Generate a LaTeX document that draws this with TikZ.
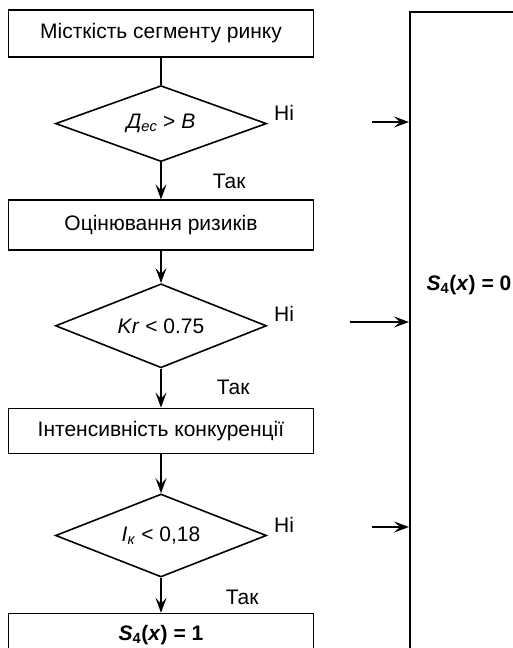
\documentclass[tikz,border=0pt]{standalone}
\usepackage{fontspec}
\setmainfont{Liberation Sans}
\usepackage{tikz}
\usetikzlibrary{shapes.geometric, arrows.meta, positioning}

\begin{document}
\begin{tikzpicture}[
    x=1pt, y=-1pt,
    line width=1.6pt,
    font=\fontsize{21pt}{24pt}\selectfont,
    block/.style={rectangle, draw, text centered, minimum width=305pt, minimum height=48pt, inner sep=0pt},
    decision/.style={diamond, draw, aspect=2.7, minimum width=211pt, minimum height=80pt, inner sep=0pt},
    resultbox/.style={rectangle, draw, minimum width=220pt, minimum height=700pt, anchor=north west},
    arrow/.style={-{Stealth[length=15pt, width=11pt, inset=6pt]}}
]
    \clip (0,0) rectangle (513,648);

    % Nodes
    \node [block, minimum height=47pt] (segment) at (161,33.5) {Місткість сегменту ринку};
    \node [decision, below=27pt of segment, minimum height=76pt] (dvs) {\textit{Д}\textsubscript{\textit{ес}} > \textit{В}};
    \node [block, below=37pt of dvs, minimum height=50pt] (risks) {Оцінювання ризиків};
    \node [decision, below=32pt of risks, minimum height=84pt] (kr) {\textit{Kr} < 0.75};
    \node [block, below=39pt of kr, minimum height=45pt] (compet) {Інтенсивність конкуренції};
    \node [decision, below=39pt of compet, minimum height=83pt] (ik) {\textit{I}\textsubscript{\textit{к}} < 0,18};
    \node [block, below=35pt of ik, minimum height=42pt] (one) {\textbf{\textit{S}\textsubscript{4}(\textit{x}) = 1}};

    % Right block
    \node [resultbox] (zero) at (409,11) {};
    \node (zerolbl) at (469,285) {\textbf{\textit{S}\textsubscript{4}(\textit{x}) = 0}};

    % Labels
    \node [anchor=south west, inner sep=0pt, xshift=6pt, yshift=2pt] (no1) at (dvs.east) {Ні};
    \node [anchor=south west, inner sep=0pt, xshift=6pt, yshift=4pt] (no2) at (kr.east) {Ні};
    \node [anchor=south west, inner sep=0pt, xshift=6pt, yshift=2pt] (no3) at (ik.east) {Ні};
    \node [anchor=north west, inner sep=0pt, xshift=51pt, yshift=-11pt] (yes1) at (dvs.south) {Так};
    \node [anchor=north west, inner sep=0pt, xshift=55pt, yshift=-11pt] (yes2) at (kr.south) {Так};
    \node [anchor=north west, inner sep=0pt, xshift=64pt, yshift=-11pt] (yes3) at (ik.south) {Так};

    % Free arrow ends
    \coordinate (in1) at (372,122);
    \coordinate (in2) at (350,322);
    \coordinate (in3) at (372,527);

    % Arrows
    \draw (segment) -- (dvs);
    \draw [arrow] (dvs) -- (risks);
    \draw [arrow] (risks) -- (kr);
    \draw [arrow] (kr) -- (compet);
    \draw [arrow] (compet) -- (ik);
    \draw [arrow] (ik) -- (one);
    \draw [arrow] (in1) -- (in1 -| zero.west);
    \draw [arrow] (in2) -- (in2 -| zero.west);
    \draw [arrow] (in3) -- (in3 -| zero.west);

\end{tikzpicture}
\end{document}
